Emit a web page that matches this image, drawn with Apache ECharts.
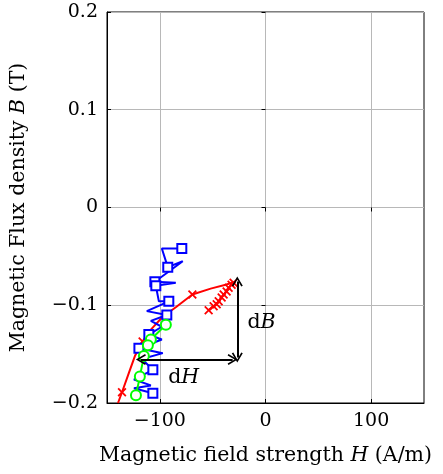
<!DOCTYPE html>
<html>
<head>
<meta charset="utf-8">
<script src="https://cdn.jsdelivr.net/npm/echarts@6.0.0/dist/echarts.min.js"></script>
<style>
html, body { margin: 0; padding: 0; background: #fff; }
#main { width: 443px; height: 474px; }
</style>
</head>
<body>
<div id="main"></div>
<script>
// 刻度
const xTicks = [-100, 0, 100];
const yTicks = [-0.2, -0.1, 0, 0.1, 0.2];

// 红色曲线 (x 标记)
const redH = [-139.6, -135.8, -129.2, -123.6, -116.3, -108.5, -97.5, -84.9, -69.2, -51.9, -37.7, -28.5,
    -30.2, -32.1, -34.9, -36.8, -39.6, -41.5, -44.3, -46.2, -49.1, -53.8];
const redB = [-0.200, -0.189, -0.169, -0.152, -0.137, -0.125, -0.112, -0.102, -0.089, -0.083, -0.079, -0.076,
    -0.077, -0.079, -0.082, -0.086, -0.089, -0.092, -0.096, -0.099, -0.101, -0.105];
const redMarks = [1, 4, 8, 12, 13, 14, 15, 16, 17, 18, 19, 20, 21];

// 蓝色折线 (方块标记)
const blueH = [-79.2, -98.1, -92.5, -78.3, -104.7, -84.9, -103.8, -100.9, -91.5, -112.3, -93.4, -108.5,
    -98.1, -110.4, -98.1, -119.8, -97.2, -117.0, -106.6, -124.5, -108.5, -124.5, -106.6];
const blueB = [-0.042, -0.042, -0.061, -0.055, -0.076, -0.077, -0.080, -0.096, -0.096, -0.106, -0.110, -0.116,
    -0.122, -0.130, -0.135, -0.144, -0.149, -0.155, -0.166, -0.176, -0.182, -0.185, -0.190];
const blueMarks = [0, 2, 4, 6, 8, 10, 13, 15, 18, 22];

// 绿色折线 (圆圈标记)
const greenH = [-94.3, -108.5, -111.3, -115.1, -118.9, -122.6];
const greenB = [-0.120, -0.135, -0.141, -0.152, -0.173, -0.192];

// dB / dH 箭头
const dBArrow = [[-26.7, -0.0757], [-26.7, -0.1535]];
const dHArrow = [[-117.9, -0.1555], [-31.1, -0.1555]];

var myChart = echarts.init(document.getElementById('main'));

const font = 'DejaVu Serif';
const fsize = 19;
const crossPath = 'path://M0,1.4 L1.4,0 L5,3.6 L8.6,0 L10,1.4 L6.4,5 L10,8.6 L8.6,10 L5,6.4 L1.4,10 L0,8.6 L3.6,5 Z';
const headPath = 'path://M5,0 L10,9 L8.6,9.8 L5,3 L1.4,9.8 L0,9 Z';

function minusFmt(v) {
    let r = Math.round(v * 10) / 10;
    if (r === 0) return '0';
    return r < 0 ? '\u2212' + Math.abs(r) : String(r);
}

// 构造带标记的数据
function makeData(xs, ys, marks, sym) {
    return xs.map(function (x, i) {
        return { value: [x, ys[i]], symbol: (!marks || marks.indexOf(i) >= 0) ? sym : 'none' };
    });
}

const richText = {
    n: { fontFamily: font, fontSize: fsize, color: '#000' },
    i: { fontFamily: font, fontSize: fsize, fontStyle: 'italic', color: '#000' }
};
// 轴标题稍大一点
const nameRich = {
    n: { fontFamily: font, fontSize: 20.5, color: '#000' },
    i: { fontFamily: font, fontSize: 20.5, fontStyle: 'italic', color: '#000' }
};

function mirrorAxis(base) {
    return Object.assign({
        axisLine: { show: false },
        axisLabel: { show: false },
        splitLine: { show: false },
        axisTick: { show: true, inside: true, length: 4, lineStyle: { color: '#000' } }
    }, base);
}

var option = {
    animation: false,
    grid: { left: 106, right: 19, top: 12, bottom: 71, show: true, borderColor: '#000', borderWidth: 1 },
    xAxis: [{
        type: 'value', min: -150, max: 150,
        axisLine: { onZero: false, lineStyle: { color: '#000' } },
        axisTick: { inside: true, length: 4, customValues: xTicks, lineStyle: { color: '#000' } },
        axisLabel: { customValues: xTicks, formatter: minusFmt, fontFamily: font, fontSize: fsize, color: '#000', margin: 9 },
        splitLine: { show: true, lineStyle: { color: '#b8b8b8', width: 1 } },
        name: '{n|Magnetic field strength }{i|H}{n| (A/m)}',
        nameLocation: 'middle', nameGap: 42,
        nameTextStyle: { rich: nameRich }
    }, mirrorAxis({
        type: 'value', min: -150, max: 150, position: 'top',
        axisTick: { show: true, inside: true, length: 4, customValues: xTicks, lineStyle: { color: '#000' } }
    })],
    yAxis: [{
        type: 'value', min: -0.2, max: 0.2, interval: 0.1,
        axisLine: { onZero: false, lineStyle: { color: '#000' } },
        axisTick: { inside: true, length: 4, lineStyle: { color: '#000' } },
        axisLabel: { formatter: minusFmt, fontFamily: font, fontSize: fsize, color: '#000', margin: 9 },
        splitLine: { show: true, lineStyle: { color: '#b8b8b8', width: 1 } },
        name: '{n|Magnetic Flux density }{i|B}{n| (T)}',
        nameLocation: 'middle', nameGap: 78,
        nameTextStyle: { rich: nameRich }
    }, mirrorAxis({
        type: 'value', min: -0.2, max: 0.2, interval: 0.1, position: 'right'
    })],
    series: [
        {
            type: 'line',
            data: makeData(redH, redB, redMarks, crossPath),
            symbolSize: 9,
            showAllSymbol: true,
            lineStyle: { color: '#ff0000', width: 2 },
            itemStyle: { color: '#ff0000' },
            silent: true,
            z: 2,
            markLine: {
                silent: true,
                symbol: [headPath, headPath],
                symbolSize: [11, 10],
                label: { show: false },
                lineStyle: { color: '#000', width: 2, type: 'solid' },
                data: [
                    [{ coord: dBArrow[0] }, { coord: dBArrow[1] }],
                    [{ coord: dHArrow[0] }, { coord: dHArrow[1] }]
                ]
            },
            markPoint: {
                silent: true,
                symbol: 'circle',
                symbolSize: 0,
                label: { show: true, position: 'inside', formatter: '{n|d}{i|B}', rich: nameRich },
                data: [
                    { coord: [-3.8, -0.1176], label: { formatter: '{n|d}{i|B}' } },
                    { coord: [-77.4, -0.1740], label: { formatter: '{n|d}{i|H}' } }
                ]
            }
        },
        {
            type: 'line',
            data: makeData(blueH, blueB, blueMarks, 'emptyRect'),
            symbolSize: 9,
            showAllSymbol: true,
            lineStyle: { color: '#0000ff', width: 2 },
            itemStyle: { color: '#0000ff', borderWidth: 2 },
            silent: true,
            z: 3
        },
        {
            type: 'line',
            data: makeData(greenH, greenB, null, 'emptyCircle'),
            symbolSize: 10,
            showAllSymbol: true,
            lineStyle: { color: '#00ff00', width: 2 },
            itemStyle: { color: '#00ff00', borderWidth: 2.2 },
            silent: true,
            z: 4
        }
    ]
};

myChart.setOption(option);
</script>
</body>
</html>
